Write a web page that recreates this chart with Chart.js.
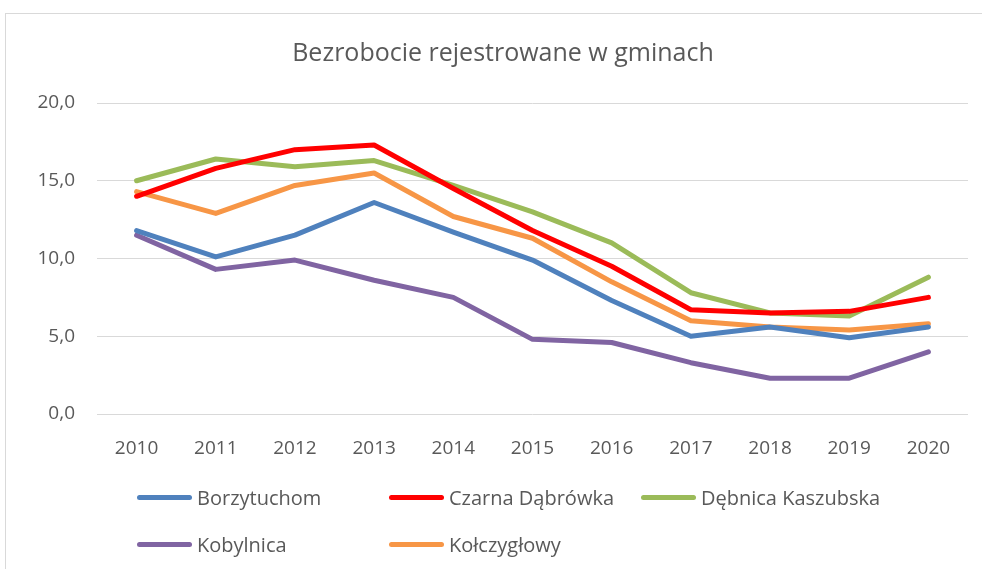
<!DOCTYPE html>
<html lang="pl">
<head>
<meta charset="utf-8">
<title>Bezrobocie rejestrowane w gminach</title>
<script src="https://cdn.jsdelivr.net/npm/chart.js@4/dist/chart.umd.min.js"></script>
<style>
  html, body { margin: 0; padding: 0; background: #fff; overflow: hidden; }
  #wrap { position: relative; width: 982px; height: 569px; overflow: hidden; }
  #frame {
    position: absolute; left: 5px; top: 13px; width: 1000px; height: 600px;
    border: 1px solid #d9d9d9; box-sizing: border-box;
  }
  #chart { position: absolute; left: 0; top: 0; }
  #legend {
    position: absolute; left: 137px; top: 482px;
    display: grid; grid-template-columns: 252px 252px 252px; grid-auto-rows: 47px;
    font-family: "Open Sans", sans-serif; font-size: 20px; color: #595959;
  }
  .item { display: flex; align-items: center; height: 30px; }
  .swatch { width: 55px; height: 5px; border-radius: 3px; margin-right: 5px; }
</style>
</head>
<body>
<div id="wrap">
  <div id="frame"></div>
  <canvas id="chart" width="982" height="569"></canvas>
  <div id="legend"></div>
</div>
<script>
// ---- Data ----
const years = ['2010', '2011', '2012', '2013', '2014', '2015', '2016', '2017', '2018', '2019', '2020'];

const borzytuchom      = [11.8, 10.1, 11.5, 13.6, 11.7, 9.9, 7.3, 5.0, 5.6, 4.9, 5.6];
const czarnaDabrowka   = [14.0, 15.8, 17.0, 17.3, 14.5, 11.8, 9.5, 6.7, 6.5, 6.6, 7.5];
const debnicaKaszubska = [15.0, 16.4, 15.9, 16.3, 14.7, 13.0, 11.0, 7.8, 6.5, 6.3, 8.8];
const kobylnica        = [11.5, 9.3, 9.9, 8.6, 7.5, 4.8, 4.6, 3.3, 2.3, 2.3, 4.0];
const kolczyglowy      = [14.3, 12.9, 14.7, 15.5, 12.7, 11.3, 8.5, 6.0, 5.6, 5.4, 5.8];

const seriesNames = ['Borzytuchom', 'Czarna Dąbrówka', 'Dębnica Kaszubska', 'Kobylnica', 'Kołczygłowy'];
const seriesData  = [borzytuchom, czarnaDabrowka, debnicaKaszubska, kobylnica, kolczyglowy];
const seriesColors = ['#4f81bd', '#ff0000', '#9bbb59', '#8064a2', '#f79646'];

const TEXT = '#595959';
const GRID = '#d9d9d9';
const FONT = '"Open Sans", sans-serif';

const datasets = seriesNames.map((name, i) => ({
  label: name,
  data: seriesData[i],
  borderColor: seriesColors[i],
  backgroundColor: seriesColors[i],
  borderWidth: 5,
  pointRadius: 0,
  tension: 0,
  borderCapStyle: 'round',
  borderJoinStyle: 'round'
}));

const chart = new Chart(document.getElementById('chart'), {
  type: 'line',
  data: { labels: years, datasets },
  options: {
    responsive: false,
    animation: false,
    // left padding + narrower y axis keeps the plot at x=97 while centring the title on the frame
    layout: { padding: { left: 38, right: 14, top: 0, bottom: 115 } },
    plugins: {
      legend: { display: false },
      tooltip: { enabled: false },
      title: {
        display: true,
        text: 'Bezrobocie rejestrowane w gminach',
        color: TEXT,
        font: { family: FONT, size: 25, weight: 'normal' },
        padding: { top: 39, bottom: 34 }
      }
    },
    scales: {
      x: {
        offset: true,
        grid: { display: false },
        border: { display: false },
        ticks: { color: TEXT, font: { family: FONT, size: 19 }, padding: 15, maxRotation: 0 },
        afterFit: s => { s.height = 40; }
      },
      y: {
        min: 0, max: 20,
        grid: { color: GRID, lineWidth: 1, drawTicks: false },
        border: { display: false },
        ticks: {
          stepSize: 5,
          color: TEXT,
          padding: 22,
          font: { family: FONT, size: 19 },
          callback: v => v.toFixed(1).replace('.', ',')
        },
        afterFit: s => { s.width = 59; }
      }
    }
  }
});

// Legend in fixed columns, built from the datasets
const legendEl = document.getElementById('legend');
chart.data.datasets.forEach(ds => {
  const item = document.createElement('div');
  item.className = 'item';
  item.innerHTML = `<span class="swatch" style="background:${ds.borderColor}"></span><span>${ds.label}</span>`;
  legendEl.appendChild(item);
});
</script>
</body>
</html>
